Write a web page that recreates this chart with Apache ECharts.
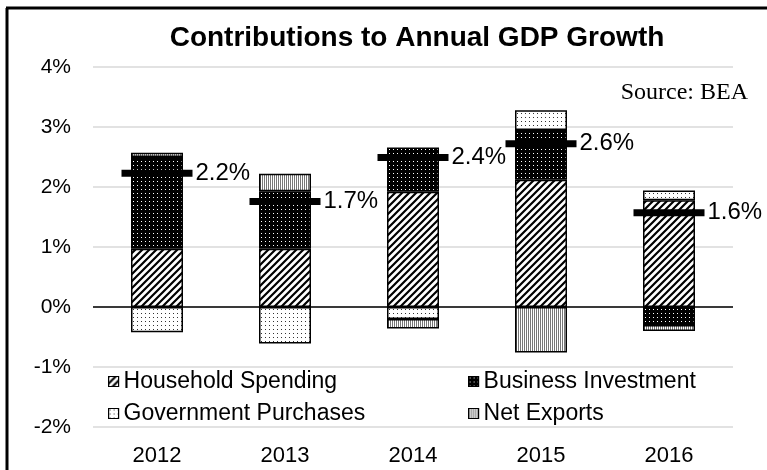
<!DOCTYPE html>
<html>
<head>
<meta charset="utf-8">
<title>Contributions to Annual GDP Growth</title>
<script src="https://cdn.jsdelivr.net/npm/echarts@6/dist/echarts.min.js"></script>
<style>
  html, body { margin: 0; padding: 0; background: #fff; }
  #chart { width: 767px; height: 470px; }
</style>
</head>
<body>
<div id="chart"></div>
<script>
  // data (percentage points)
  var years = ['2012', '2013', '2014', '2015', '2016']
  var household = [0.97, 0.97, 1.92, 2.12, 1.78]
  var business = [1.53, 0.96, 0.74, 0.83, -0.30]
  var government = [-0.42, -0.61, -0.20, 0.33, 0.16]
  var netExports = [0.07, 0.29, -0.16, -0.76, -0.10]
  var gdpTotal = [2.23, 1.76, 2.49, 2.72, 1.57]
  var gdpLabels = ['2.2%', '1.7%', '2.4%', '2.6%', '1.6%']
  var yTicks = { min: -2, max: 4, interval: 1 }

  var font = 'Liberation Sans, Arial, sans-serif'

  // small canvas tiles used as fill patterns
  function tile(w, h, draw) {
    var c = document.createElement('canvas')
    c.width = w
    c.height = h
    var ctx = c.getContext('2d')
    draw(ctx)
    return { image: c, repeat: 'repeat' }
  }
  var hatch = tile(7, 7, function (ctx) {
    ctx.fillStyle = '#fff'
    ctx.fillRect(0, 0, 7, 7)
    ctx.strokeStyle = '#000'
    ctx.lineWidth = 2.2
    ctx.beginPath()
    ctx.moveTo(-1, 8); ctx.lineTo(8, -1)
    ctx.moveTo(-2, 2); ctx.lineTo(2, -2)
    ctx.moveTo(5, 9); ctx.lineTo(9, 5)
    ctx.stroke()
  })
  var darkDots = tile(4, 4, function (ctx) {
    ctx.fillStyle = '#000'
    ctx.fillRect(0, 0, 4, 4)
    ctx.fillStyle = '#fff'
    ctx.fillRect(1, 1, 1, 1)
  })
  var lightDots = tile(4, 4, function (ctx) {
    ctx.fillStyle = '#fff'
    ctx.fillRect(0, 0, 4, 4)
    ctx.fillStyle = '#333'
    ctx.fillRect(1, 1, 1, 1)
  })
  var greyFine = tile(2, 2, function (ctx) {
    ctx.fillStyle = '#fff'
    ctx.fillRect(0, 0, 2, 2)
    ctx.fillStyle = '#777'
    ctx.fillRect(0, 0, 1, 2)
  })

  function barSeries(name, data, fill) {
    return {
      name: name,
      type: 'bar',
      stack: 'gdp',
      barWidth: 52,
      data: data,
      itemStyle: { color: fill, borderColor: '#000', borderWidth: 1.5 },
      emphasis: { disabled: true }
    }
  }

  function legendAt(name, left, top) {
    return {
      data: [name],
      left: left,
      top: top,
      padding: 0,
      icon: 'rect',
      itemWidth: 10,
      itemHeight: 10,
      itemTextGap: 3,
      itemStyle: { borderColor: '#000', borderWidth: 1.2 },
      textStyle: { color: '#000', fontSize: 23, fontFamily: font }
    }
  }

  var series = [
    barSeries('Household Spending', household, hatch),
    barSeries('Business Investment', business, darkDots),
    barSeries('Government Purchases', government, lightDots),
    barSeries('Net Exports', netExports, greyFine),
    {
      name: 'GDP',
      type: 'scatter',
      symbol: 'rect',
      symbolSize: [71, 7],
      data: gdpTotal,
      z: 5,
      itemStyle: { color: '#000', opacity: 1 },
      emphasis: { disabled: true },
      label: {
        show: true,
        position: 'right',
        distance: 3,
        color: '#000',
        fontSize: 24,
        fontFamily: font,
        formatter: function (p) { return gdpLabels[p.dataIndex] }
      }
    }
  ]
  // zero line over the bars
  series[0].markLine = {
    silent: true,
    symbol: 'none',
    label: { show: false },
    lineStyle: { color: '#000', type: 'solid', width: 1.5 },
    data: [{ yAxis: 0 }]
  }

  var option = {
    animation: false,
    backgroundColor: '#fff',
    textStyle: { fontFamily: font },
    grid: { left: 93, right: 34, top: 67, bottom: 43 },
    legend: [
      legendAt('Household Spending', 108, 370),
      legendAt('Business Investment', 468, 370),
      legendAt('Government Purchases', 108, 402),
      legendAt('Net Exports', 468, 402)
    ],
    xAxis: {
      type: 'category',
      data: years,
      axisLine: { show: false },
      axisTick: { show: false },
      axisLabel: { color: '#000', fontSize: 22, margin: 18, fontFamily: font }
    },
    yAxis: {
      type: 'value',
      min: yTicks.min,
      max: yTicks.max,
      interval: yTicks.interval,
      axisLine: { show: false },
      axisTick: { show: false },
      axisLabel: { color: '#000', fontSize: 21, margin: 22, fontFamily: font, formatter: '{value}%' },
      splitLine: { lineStyle: { color: '#d9d9d9', width: 1.5 } }
    },
    graphic: [
      {
        type: 'text',
        x: 417, y: 38,
        style: {
          text: 'Contributions to Annual GDP Growth',
          font: 'bold 28px ' + font,
          fill: '#000',
          textAlign: 'center',
          textVerticalAlign: 'middle'
        }
      },
      {
        type: 'text',
        x: 748, y: 93,
        style: {
          text: 'Source: BEA',
          font: '24px Liberation Serif, Times New Roman, serif',
          fill: '#000',
          textAlign: 'right',
          textVerticalAlign: 'middle'
        }
      },
      { type: 'line', shape: { x1: 6, y1: 8, x2: 767, y2: 8 }, style: { stroke: '#000', lineWidth: 3 } },
      { type: 'line', shape: { x1: 7, y1: 8, x2: 7, y2: 470 }, style: { stroke: '#000', lineWidth: 3 } }
    ],
    series: series
  }

  var myChart = echarts.init(document.getElementById('chart'))
  myChart.setOption(option)
  window.onresize = myChart.resize
</script>
</body>
</html>
